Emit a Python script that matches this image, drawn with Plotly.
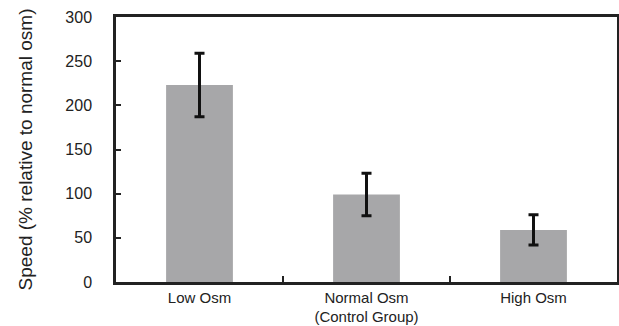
import plotly.graph_objects as go

categories = ["Low Osm", "Normal Osm<br>(Control Group)", "High Osm"]
values = [223, 99, 59]
errors = [36, 24, 17]
y_ticks = [0, 50, 100, 150, 200, 250, 300]

fig = go.Figure(go.Bar(
    x=categories, y=values,
    marker=dict(color="#a7a7a9", line=dict(width=0)),
    width=0.4,
    error_y=dict(type="data", array=errors, visible=True, color="#111111", thickness=3, width=5),
))

font_family = "Liberation Sans, Arial, sans-serif"
fig.update_layout(
    width=619, height=326,
    margin=dict(l=116, r=2, t=17, b=44),
    plot_bgcolor="white", paper_bgcolor="white",
    showlegend=False,
    font=dict(family=font_family, size=16, color="#222222"),
)
fig.update_xaxes(
    type="category", range=[-0.5, 2.5], automargin=False,
    showline=True, linecolor="#222222", linewidth=2.5, mirror=True,
    ticks="inside", tickson="boundaries", ticklen=6, tickwidth=2, tickcolor="#222222",
    showgrid=False, tickfont=dict(size=15, family=font_family),
)
fig.update_yaxes(
    range=[0, 300], tickvals=y_ticks, automargin=False,
    showline=True, linecolor="#222222", linewidth=2.5, mirror=True,
    ticks="inside", ticklen=5, tickwidth=2, tickcolor="#222222",
    showgrid=False, zeroline=False, ticklabelstandoff=18,
    tickfont=dict(size=16, family=font_family),
    title=dict(text="Speed (% relative to normal osm)", font=dict(size=19, family=font_family), standoff=28),
)

fig.write_html("out.html")
